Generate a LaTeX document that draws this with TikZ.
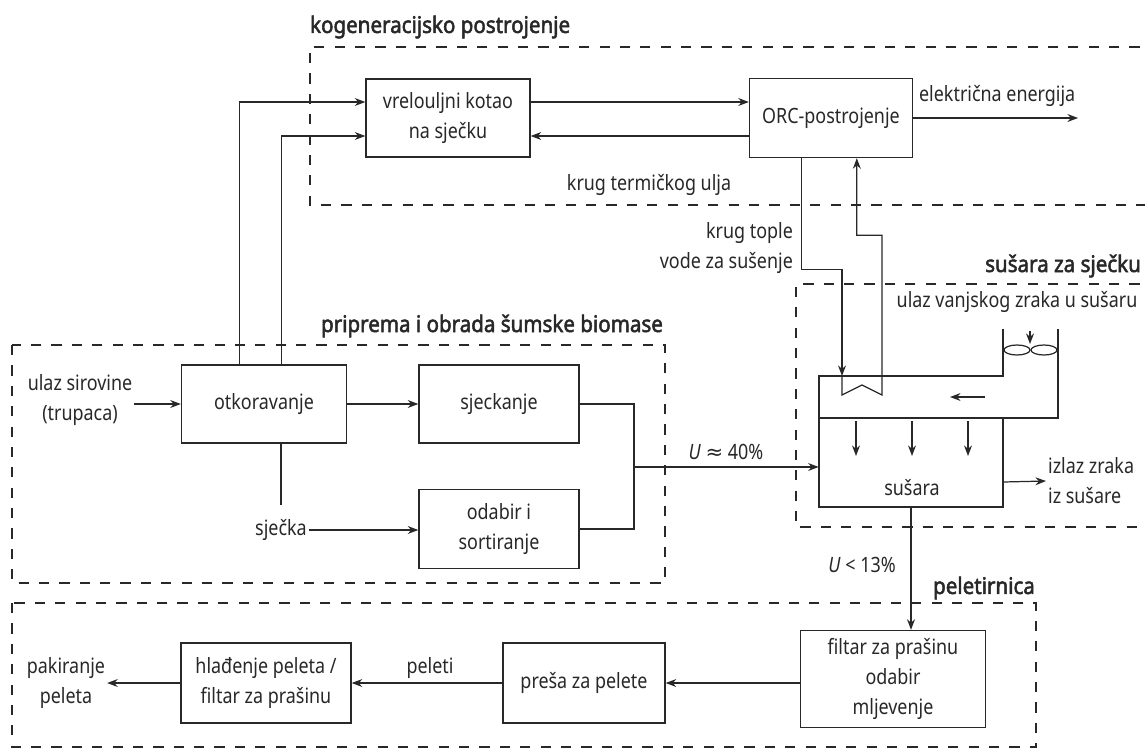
\documentclass[tikz,border=0pt]{standalone}
\usepackage{fontspec}
\setmainfont{Noto Sans}[FakeStretch=0.85]
\newfontfamily\naslovfont{Noto Sans}[FakeStretch=0.9, FakeBold=2.2]
\newfontfamily\simbolfont{DejaVu Sans}
\usepackage{tikz}
\usetikzlibrary{positioning, arrows.meta, calc}
\usepackage{xcolor}
\definecolor{Tinta}{RGB}{40, 40, 40}

\begin{document}
\begin{tikzpicture}[x=0.02cm, y=-0.02cm, every node/.style={text=Tinta}]
        \tikzstyle{blok} = [rectangle, draw=Tinta, line width=0.8pt, align=center,
          inner sep=2pt, font=\fontsize{12}{17}\selectfont]
        \tikzstyle{oznaka} = [align=center, inner sep=1pt, font=\fontsize{12}{17}\selectfont]
        \tikzstyle{naslov} = [inner sep=1pt, font=\naslovfont\fontsize{13}{15}\selectfont]
        \tikzstyle{okvir} = [draw=Tinta, line width=1.6pt, dash pattern=on 5.8pt off 5.8pt]
        \tikzstyle{veza} = [draw=Tinta, line width=0.7pt]
        \tikzstyle{strelica} = [veza, -{Stealth[length=6pt, width=4.5pt]}]

        \useasboundingbox (0,0) rectangle (1145,751);

        \draw[okvir] (1160,47) -- (310,47) -- (310,205) -- (1160,205);
        \draw[okvir] (1160,284) -- (796,284) -- (796,527) -- (1160,527);
        \draw[okvir] (12,345) rectangle (665,583);
        \draw[okvir] (12,603) rectangle (1036,747);

        \node[naslov, anchor=west] (tkogen) at (308,27) {kogeneracijsko postrojenje};
        \node[naslov, anchor=east] (tpripr) at (665,326) {priprema i obrada šumske biomase};
        \node[naslov, anchor=east] (tsusara) at (1143,266) {sušara za sječku};
        \node[naslov, anchor=east] (tpelet) at (1037,588) {peletirnica};

        \node[blok, minimum width=3.28cm, minimum height=1.56cm] (kotao) at (448,118) {vrelouljni kotao\\na sječku};
        \node[blok, minimum width=3.26cm, minimum height=1.58cm] (orc) at (831,118) {ORC-postrojenje};
        \node[blok, minimum width=3.3cm, minimum height=1.56cm] (otk) at (264,404) {otkoravanje};
        \node[blok, minimum width=3.2cm, minimum height=1.56cm] (sjeck) at (499,404) {sjeckanje};
        \node[blok, minimum width=3.2cm, minimum height=1.58cm] (odabir) at (499,529) {odabir i\\sortiranje};
        \node[blok, minimum width=3.7cm, minimum height=1.94cm] (filtar) at (893,679) {filtar za prašinu\\odabir\\mljevenje};
        \node[blok, minimum width=3.24cm, minimum height=1.6cm] (presa) at (584,683) {preša za pelete};
        \node[blok, minimum width=3.4cm, minimum height=1.6cm] (hlad) at (266,683) {hlađenje peleta /\\filtar za prašinu};
        \node[minimum width=3.68cm, minimum height=2.62cm, inner sep=0pt] (susara) at (911,441.5) {};

        \node[oznaka] (ulaz) at (80,400) {ulaz sirovine\\(trupaca)};
        \node[oznaka] (secka) at (281,530) {sječka};
        \node[oznaka, anchor=east, align=right] (vrela) at (795,248) {krug tople\\vode za sušenje};
        \node[oznaka] (ulje) at (649,185) {krug termičkog ulja};
        \node[oznaka, anchor=west] (struja) at (917,96) {električna energija};
        \node[oznaka] (u40) at (726,452) {\textit{U} {\simbolfont ≈} 40\%};
        \node[oznaka] (u13) at (862,565) {\textit{U} < 13\%};
        \node[oznaka] (zrak) at (1017,302) {ulaz vanjskog zraka u sušaru};
        \node[oznaka] (tsus) at (912,488) {sušara};
        \node[oznaka, anchor=west, align=left] (izlaz) at (1046,481) {izlaz zraka\\iz sušare};
        \node[oznaka] (peleti) at (430,668) {peleti};
        \node[oznaka] (pakir) at (66,683) {pakiranje\\peleta};

        \coordinate (strujakraj) at (1078,118);
        \coordinate (spoj) at (634,467);
        \coordinate (izmjU) at (842,376);
        \coordinate (izlazpoc) at (1003,482);

        \draw[strelica] ($(otk.north west)+(59,0)$) |- ($(kotao.west)+(0,-16)$);
        \draw[strelica] ($(otk.north west)+(101,0)$) |- ($(kotao.west)+(0,18)$);
        \draw[strelica] ($(kotao.east)+(0,-16)$) -- ($(orc.west)+(0,-16)$);
        \draw[strelica] ($(orc.west)+(0,18)$) -- ($(kotao.east)+(0,18)$);
        \draw[strelica] (orc.east) -- (strujakraj);
        \draw[strelica] (ulaz.east |- otk.west) -- (otk.west);
        \draw[strelica] (otk.east) -- (sjeck.west);
        \draw[veza] (otk.south -| secka) -- ($(secka.north)+(0,-12)$);
        \draw[strelica] (secka.east) -- (secka.east -| odabir.west);
        \draw[veza] (sjeck.east) -| (spoj) |- (odabir.east);
        \draw[strelica] (spoj) -- (spoj -| susara.west);
        \draw[strelica] (susara.south) -- (susara.south |- filtar.north);
        \draw[strelica] (filtar.west |- presa.east) -- (presa.east);
        \draw[strelica] (presa.west) -- (hlad.east);
        \draw[strelica] (hlad.west) -- (pakir.east |- hlad.west);

        \draw[strelica] ($(orc.south west)+(53,0)$) -- ++(0,111) -| (izmjU);
        \draw[strelica] (izmjU) -- ++(0,19) -- ++(20,-10) -- ++(20,10)
          |- ($(orc.south west)+(108,77)$) -- ($(orc.south west)+(108,0)$);

        \draw[veza] (1003,329) -- (1003,376) -- (819,376) -- (819,507) -- (1003,507) -- (1003,418);
        \draw[veza] (819,418) -- (1058,418) -- (1058,329);
        \foreach \x in {1017,1044}
          \draw[veza] (\x,350) ellipse [x radius=0.26cm, y radius=0.1cm];
        \draw[strelica] (1030,331) -- (1030,344);
        \foreach \x in {856,912,968}
          \draw[strelica] (\x,421) -- (\x,456);
        \draw[strelica] (985,397) -- (950,397);
        \draw[strelica] (izlazpoc) -- (izlaz.west);
      \end{tikzpicture}
\end{document}
